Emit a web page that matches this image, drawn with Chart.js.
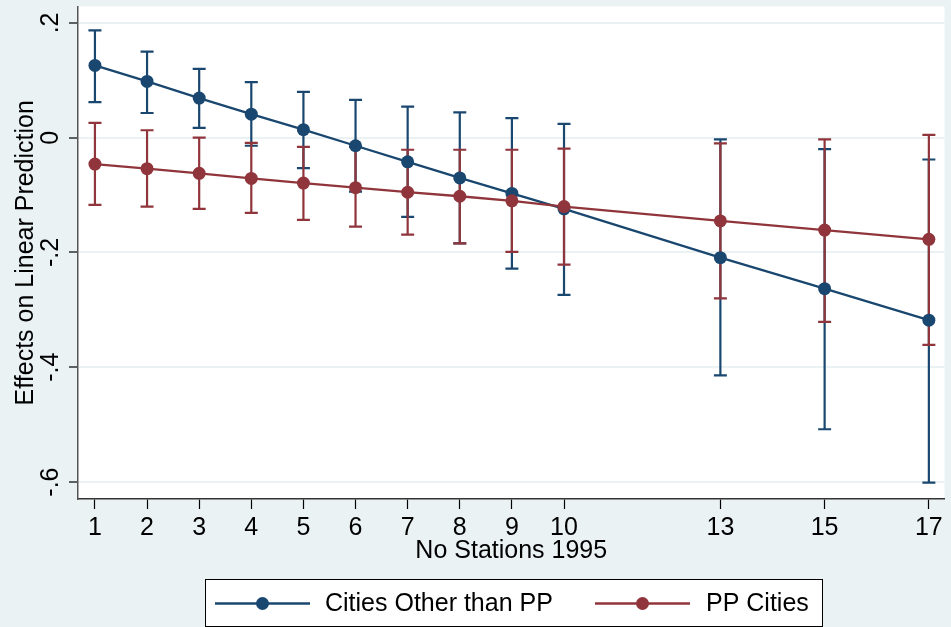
<!DOCTYPE html>
<html lang="en">
<head>
<meta charset="UTF-8">
<title>Effects on Linear Prediction</title>
<script src="https://cdn.jsdelivr.net/npm/chart.js"></script>
<style>
  body { margin: 0; background: #eaf2f3; }
  #wrap { width: 951px; height: 627px; }
</style>
</head>
<body>
<div id="wrap"><canvas id="grafico"></canvas></div>
<script>
// values
const stations = [1, 2, 3, 4, 5, 6, 7, 8, 9, 10, 13, 15, 17];
const otherMargin = [0.126, 0.098, 0.069, 0.041, 0.014, -0.014, -0.042, -0.070, -0.097, -0.124, -0.209, -0.263, -0.318];
const otherLower  = [0.062, 0.043, 0.017, -0.014, -0.053, -0.094, -0.138, -0.184, -0.228, -0.274, -0.414, -0.508, -0.601];
const otherUpper  = [0.187, 0.150, 0.120, 0.097, 0.080, 0.066, 0.054, 0.044, 0.034, 0.024, -0.003, -0.020, -0.038];
const ppMargin = [-0.046, -0.054, -0.062, -0.071, -0.079, -0.087, -0.095, -0.102, -0.110, -0.120, -0.145, -0.161, -0.177];
const ppLower  = [-0.117, -0.120, -0.124, -0.131, -0.143, -0.155, -0.169, -0.184, -0.199, -0.221, -0.280, -0.321, -0.361];
const ppUpper  = [0.026, 0.013, 0.000, -0.009, -0.016, -0.016, -0.021, -0.021, -0.021, -0.019, -0.010, -0.003, 0.005];
const yTicks = [0.2, 0, -0.2, -0.4, -0.6];
const yTickLabels = ['.2', '0', '-.2', '-.4', '-.6'];
const seriesNames = ['Cities Other than PP', 'PP Cities'];

const azul = '#1a476f';
const rojo = '#90353b';
const fuente = '"Liberation Sans", Arial, sans-serif';

const series = [
  { name: seriesNames[0], color: azul, mid: otherMargin, lo: otherLower, hi: otherUpper },
  { name: seriesNames[1], color: rojo, mid: ppMargin, lo: ppLower, hi: ppUpper }
];

const pts = arr => stations.map((s, i) => ({ x: s, y: arr[i] }));

// fondo y region blanca
const fondo = {
  id: 'fondo',
  beforeDraw(chart) {
    const { ctx, chartArea: a } = chart;
    ctx.save();
    ctx.fillStyle = '#eaf2f3';
    ctx.fillRect(0, 0, chart.width, chart.height);
    ctx.fillStyle = '#ffffff';
    ctx.fillRect(a.left, a.top, a.right - a.left, a.bottom - a.top);
    ctx.restore();
  }
};

// intervalos de confianza
const barras = {
  id: 'barras',
  beforeDatasetsDraw(chart) {
    const { ctx, scales: { x, y } } = chart;
    ctx.save();
    ctx.lineWidth = 2.2;
    series.forEach(s => {
      ctx.strokeStyle = s.color;
      stations.forEach((st, i) => {
        const px = x.getPixelForValue(st);
        const p1 = y.getPixelForValue(s.lo[i]);
        const p2 = y.getPixelForValue(s.hi[i]);
        ctx.beginPath();
        ctx.moveTo(px, p1); ctx.lineTo(px, p2);
        ctx.moveTo(px - 6.5, p1); ctx.lineTo(px + 6.5, p1);
        ctx.moveTo(px - 6.5, p2); ctx.lineTo(px + 6.5, p2);
        ctx.stroke();
      });
    });
    ctx.restore();
  }
};

// etiquetas del eje y giradas, titulo y leyenda
const textos = {
  id: 'textos',
  afterDraw(chart) {
    const { ctx, scales: { y }, chartArea: a } = chart;
    ctx.save();
    ctx.fillStyle = '#000';
    ctx.font = '25px ' + fuente;
    ctx.textAlign = 'center';
    ctx.textBaseline = 'middle';
    yTicks.forEach((v, i) => {
      ctx.save();
      ctx.translate(50, y.getPixelForValue(v));
      ctx.rotate(-Math.PI / 2);
      ctx.fillText(yTickLabels[i], 0, 1);
      ctx.restore();
    });
    ctx.save();
    ctx.translate(33, (a.top + a.bottom) / 2);
    ctx.rotate(-Math.PI / 2);
    ctx.textBaseline = 'alphabetic';
    ctx.fillText('Effects on Linear Prediction', 0, 0);
    ctx.restore();

    // leyenda
    ctx.fillStyle = '#fff';
    ctx.fillRect(205, 579, 617, 47);
    ctx.strokeStyle = '#000';
    ctx.lineWidth = 1;
    ctx.strokeRect(205.5, 579.5, 617, 47);
    const items = [{ x0: 215, tx: 325 }, { x0: 595, tx: 706 }];
    items.forEach((it, i) => {
      const s = series[i];
      ctx.strokeStyle = s.color;
      ctx.lineWidth = 2.3;
      ctx.beginPath();
      ctx.moveTo(it.x0, 603.5); ctx.lineTo(it.x0 + 95, 603.5);
      ctx.stroke();
      ctx.fillStyle = s.color;
      ctx.beginPath();
      ctx.arc(it.x0 + 47.5, 603.5, 6.5, 0, Math.PI * 2);
      ctx.fill();
      ctx.fillStyle = '#000';
      ctx.textAlign = 'left';
      ctx.textBaseline = 'middle';
      ctx.fillText(s.name, it.tx, 604);
    });
    ctx.restore();
  }
};

new Chart(document.getElementById('grafico'), {
  type: 'line',
  data: {
    datasets: series.map((s, i) => ({
      label: s.name,
      data: pts(s.mid),
      borderColor: s.color,
      backgroundColor: s.color,
      borderWidth: 2.3,
      pointRadius: 6.5,
      pointBorderWidth: 0,
      pointBackgroundColor: s.color,
      tension: 0,
      fill: false,
      order: 1 - i
    }))
  },
  options: {
    responsive: true,
    maintainAspectRatio: false,
    animation: false,
    layout: { padding: { top: 4, right: 4, bottom: 57, left: 0 } },
    plugins: { legend: { display: false }, tooltip: { enabled: false } },
    scales: {
      x: {
        type: 'linear',
        min: 0.675,
        max: 17.3,
        afterBuildTicks: sc => { sc.ticks = stations.map(v => ({ value: v })); },
        afterFit: sc => { sc.height = 71; },
        ticks: { color: '#000', font: { size: 25, family: fuente }, padding: 4, maxRotation: 0, autoSkip: false },
        grid: { drawOnChartArea: false, drawTicks: true, tickLength: 10, tickColor: '#000', tickWidth: 1.2 },
        border: { color: '#333', width: 1.5 },
        title: { display: true, text: 'No Stations 1995', color: '#000', font: { size: 25, family: fuente }, padding: { top: 0, bottom: 4 } }
      },
      y: {
        min: -0.6295,
        max: 0.2286,
        afterBuildTicks: sc => { sc.ticks = yTicks.map(v => ({ value: v })); },
        afterFit: sc => { sc.width = 78; },
        ticks: { display: false },
        grid: { color: '#eaf2f3', lineWidth: 2, drawTicks: true, tickLength: 9, tickColor: '#000', tickWidth: 1.2 },
        border: { color: '#555', width: 1.5 }
      }
    }
  },
  plugins: [fondo, barras, textos]
});
</script>
</body>
</html>
